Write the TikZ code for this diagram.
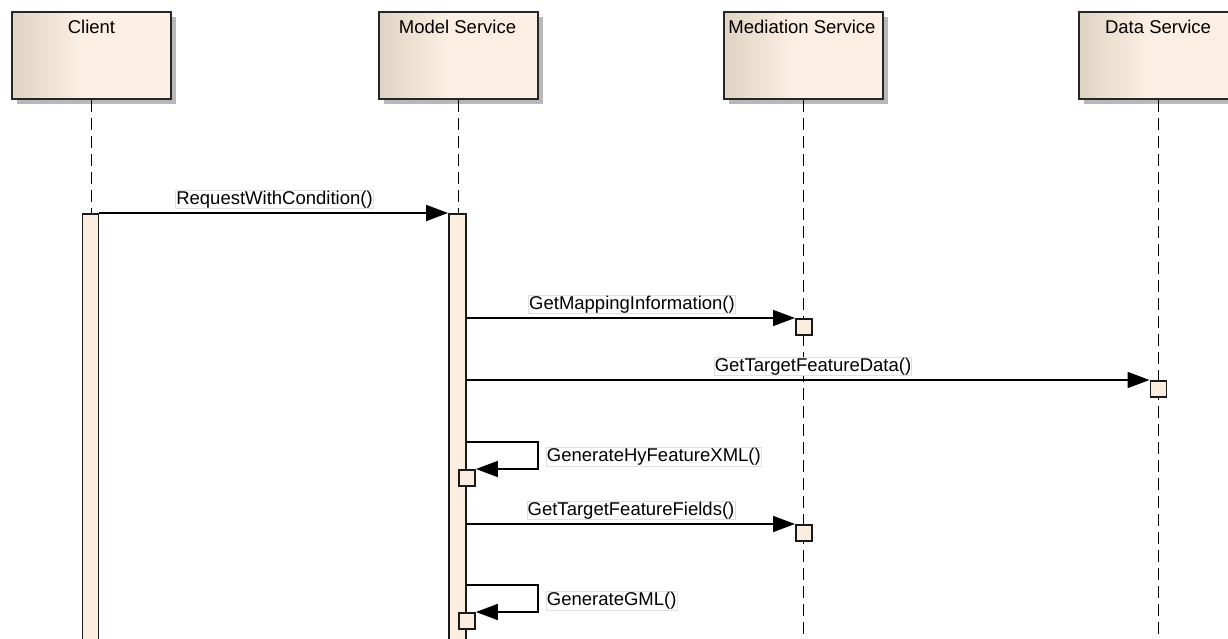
\documentclass[tikz,border=0pt]{standalone}
\usepackage{fontspec}
\setmainfont{Liberation Sans}
\usetikzlibrary{arrows.meta,shadows,calc}
\definecolor{boxL}{RGB}{224,213,196}
\definecolor{boxR}{RGB}{251,238,226}
\definecolor{actfill}{RGB}{251,237,224}
\pgfdeclarehorizontalshading{headshade}{100bp}{color(0bp)=(boxL); color(26bp)=(boxL); color(46bp)=(boxR); color(100bp)=(boxR)}
\begin{document}
\begin{tikzpicture}[x=1pt,y=-1pt,
  every node/.style={font=\fontsize{18.5}{20}\selectfont},
  headbox/.style={draw=black!85, line width=2pt, shading=headshade, minimum width=159pt, minimum height=87pt, anchor=north west, inner sep=0pt,
    drop shadow={shadow xshift=5pt, shadow yshift=-5pt, fill=black!28, opacity=1}},
  headtxt/.style={anchor=base, inner sep=0pt},
  life/.style={line width=1.9pt, dash pattern=on 12pt off 6pt},
  actbar/.style={draw=black!90, line width=1.9pt, fill=actfill, inner sep=0pt, anchor=north},
  actsq/.style={draw=black!90, line width=1.9pt, fill=actfill, inner sep=0pt, minimum size=16pt, anchor=north west},
  msg/.style={line width=1.7pt, -{Triangle[length=22pt,width=16pt]}},
  lbl/.style={draw=black!12, line width=0.7pt, fill=white, inner sep=0.6pt, text height=13.5pt, text depth=4pt}
]
\useasboundingbox (0,0) rectangle (1228,639);
\fill[white] (0,0) rectangle (1228,639);

% heads
\node[headbox] (client) at (11,11) {};
\node[headbox] (model) at (378,11) {};
\node[headbox] (med) at (723,11) {};
\node[headbox] (data) at (1078,11) {};
\node[headtxt] (clientT) at (91.5,34) {Client};
\node[headtxt] (modelT) at (457.5,34) {Model Service};
\node[headtxt] (medT) at (802,34) {Mediation Service};
\node[headtxt] (dataT) at (1158,34) {Data Service};

% lifelines
\coordinate (bot) at (0,645);
\draw[life] (client.south) -- (client.south |- 0,213);
\draw[life] (model.south) -- (model.south |- 0,213);
\draw[life] (med.south) -- (med.south |- bot);
\draw[life] (data.south) -- (data.south |- bot);

% activation bars
\node[actbar, minimum width=16pt, minimum height=440pt] (cact) at (90.5,213) {};
\node[actbar, minimum width=17pt, minimum height=440pt] (mact) at (457.5,213) {};

% small activations
\node[actsq] (med1) at (795,318) {};
\node[actsq] (data1) at (1149.5,380) {};
\node[actsq] (self1) at (458,469) {};
\node[actsq] (med2) at (795,524) {};
\node[actsq] (self2) at (458,612) {};

% messages
\draw[msg] (cact.east |- mact.north west) -- (mact.north west);
\node[lbl, anchor=south] (l1) at (274.5,209) {RequestWithCondition()};

\draw[msg] (mact.east |- med1.north west) -- (med1.north west);
\node[lbl, anchor=south] (l2) at (632,314) {GetMappingInformation()};

\draw[msg] (mact.east |- data1.north west) -- (data1.north west);
\node[lbl, anchor=south] (l3) at (813,376) {GetTargetFeatureData()};

\coordinate (loop1) at (538,442);
\draw[msg] (mact.east |- loop1) -- (loop1) |- (self1.north east);
\node[lbl, anchor=west] (l4) at (546,457) {GenerateHyFeatureXML()};

\draw[msg] (mact.east |- med2.north west) -- (med2.north west);
\node[lbl, anchor=south] (l5) at (631,520) {GetTargetFeatureFields()};

\coordinate (loop2) at (538,585);
\draw[msg] (mact.east |- loop2) -- (loop2) |- (self2.north east);
\node[lbl, anchor=west] (l6) at (546,601) {GenerateGML()};
\end{tikzpicture}
\end{document}
